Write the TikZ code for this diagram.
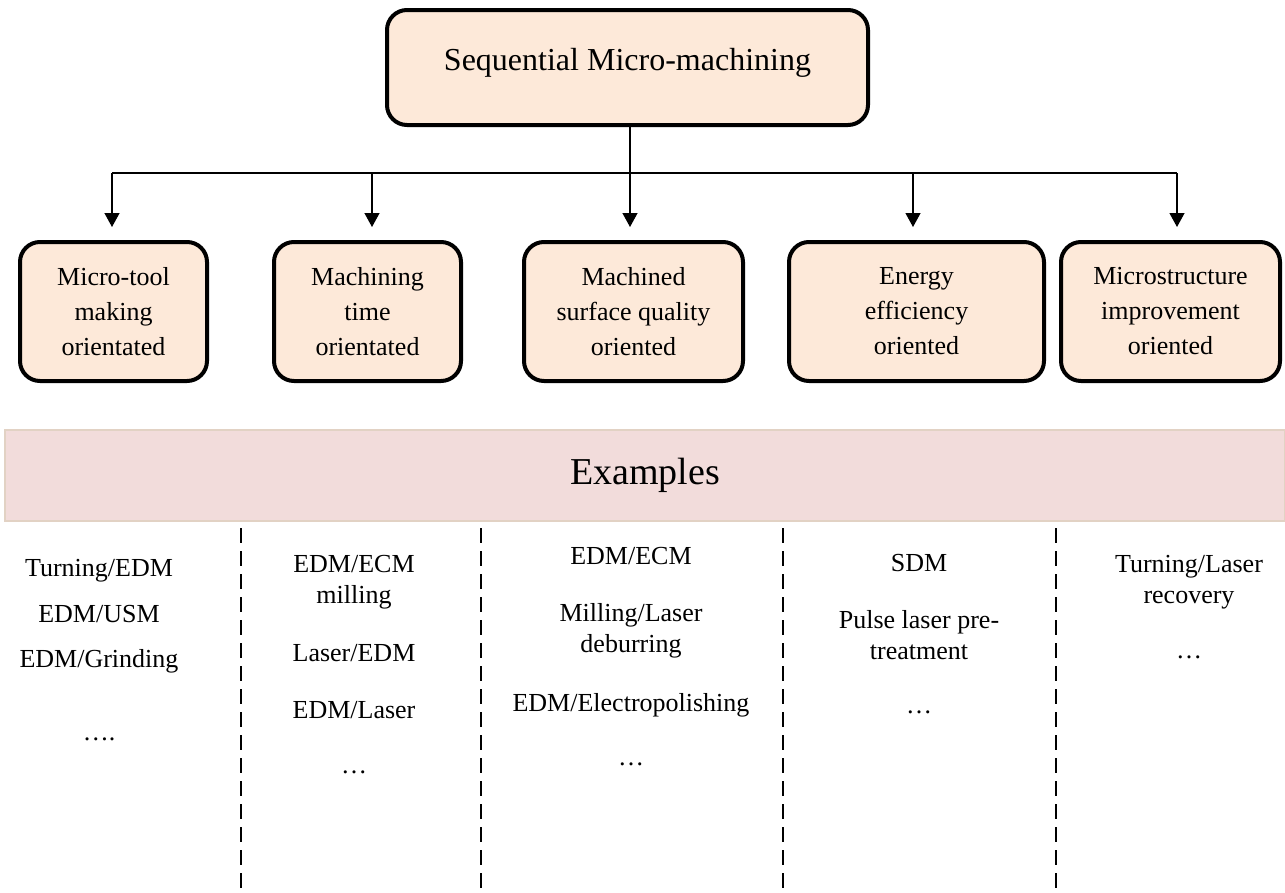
\documentclass[tikz,border=0pt]{standalone}
\usepackage{fontspec}
\setmainfont{Liberation Serif}
\usetikzlibrary{arrows.meta}
\definecolor{boxfill}{HTML}{FDE9D9}
\definecolor{bandfill}{HTML}{F2DCDB}
\definecolor{bandline}{HTML}{E2D2C4}
\begin{document}
\begin{tikzpicture}[x=1pt,y=-1pt,
  catbox/.style={draw=black, line width=4pt, rounded corners=20pt, fill=boxfill,
    align=center, font=\fontsize{26}{35}\selectfont, inner sep=0pt, minimum height=139pt},
  topbox/.style={draw=black, line width=4pt, rounded corners=20pt, fill=boxfill,
    font=\fontsize{32}{38}\selectfont, inner sep=0pt, minimum width=481pt, minimum height=115pt},
  bandbox/.style={draw=bandline, line width=1.5pt, fill=bandfill, inner sep=0pt,
    minimum width=1280pt, minimum height=91pt, font=\fontsize{38}{42}\selectfont},
  exitem/.style={align=center, anchor=base, font=\fontsize{26}{30.5}\selectfont, inner sep=0pt},
  link/.style={line width=1.3pt, draw=black},
  arrowlink/.style={link, -{Triangle[width=15pt,length=14pt]}, shorten >=13pt},
  divider/.style={line width=1.6pt, dash pattern=on 15pt off 8pt}]
\useasboundingbox (0,0) rectangle (1285,892);

% top box
\node[topbox] (top) at (627.5,67.5) {\raisebox{17pt}{Sequential Micro-machining}};

% category boxes
\node[catbox, minimum width=187pt] (b1) at (113.5,311.5) {Micro-tool\\making\\orientated};
\node[catbox, minimum width=187pt] (b2) at (367.5,311.5) {Machining\\time\\orientated};
\node[catbox, minimum width=219pt] (b3) at (633.5,311.5) {Machined\\surface quality\\oriented};
\node[catbox, minimum width=255pt] (b4) at (916.5,311.5) {Energy\\efficiency\\oriented};
\node[catbox, minimum width=219pt] (b5) at (1170.5,311.5) {Microstructure\\improvement\\oriented};

% connectors
\coordinate (j1) at (112,173);
\coordinate (j2) at (372,173);
\coordinate (j3) at (630,173);
\coordinate (j4) at (913,173);
\coordinate (j5) at (1177,173);
\draw[link] (j1) -- (j5);
\draw[arrowlink] (j3 |- top.south) -- (j3 |- b3.north);
\draw[arrowlink] (j1) -- (j1 |- b1.north);
\draw[arrowlink] (j2) -- (j2 |- b2.north);
\draw[arrowlink] (j4) -- (j4 |- b4.north);
\draw[arrowlink] (j5) -- (j5 |- b5.north);

% examples band
\node[bandbox] (band) at (645,475.5) {Examples};

% dividers
\coordinate (d1t) at (241,528); \coordinate (d1b) at (241,892);
\coordinate (d2t) at (481,528); \coordinate (d2b) at (481,892);
\coordinate (d3t) at (783,528); \coordinate (d3b) at (783,892);
\coordinate (d4t) at (1056,528); \coordinate (d4b) at (1056,892);
\draw[divider] (d1t) -- (d1b);
\draw[divider] (d2t) -- (d2b);
\draw[divider] (d3t) -- (d3b);
\draw[divider] (d4t) -- (d4b);

% column 1
\node[exitem] (c1a) at (99,576) {Turning/EDM};
\node[exitem] (c1b) at (99,622) {EDM/USM};
\node[exitem] (c1c) at (99,667) {EDM/Grinding};
\node[exitem] (c1d) at (99,740) {….};
% column 2
\node[exitem] (c2a) at (354,603) {EDM/ECM\\milling};
\node[exitem] (c2b) at (354,661) {Laser/EDM};
\node[exitem] (c2c) at (354,718) {EDM/Laser};
\node[exitem] (c2d) at (354,773) {…};
% column 3
\node[exitem] (c3a) at (631,564) {EDM/ECM};
\node[exitem] (c3b) at (631,652) {Milling/Laser\\deburring};
\node[exitem] (c3c) at (631,711) {EDM/Electropolishing};
\node[exitem] (c3d) at (631,765) {…};
% column 4
\node[exitem] (c4a) at (919,571) {SDM};
\node[exitem] (c4b) at (919,659) {Pulse laser pre-\\treatment};
\node[exitem] (c4c) at (919,713) {…};
% column 5
\node[exitem] (c5a) at (1189,603) {Turning/Laser\\recovery};
\node[exitem] (c5b) at (1189,658) {…};
\end{tikzpicture}
\end{document}
